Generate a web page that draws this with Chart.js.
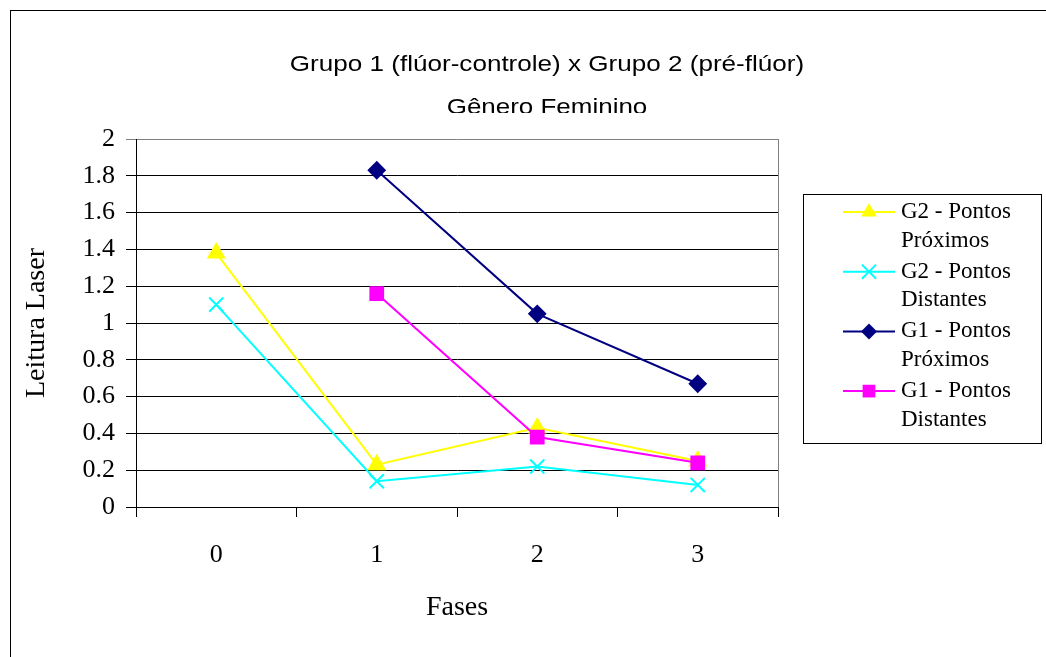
<!DOCTYPE html>
<html>
<head>
<meta charset="utf-8">
<script src="https://cdn.jsdelivr.net/npm/chart.js@4/dist/chart.umd.min.js"></script>
<style>
  html, body { margin: 0; padding: 0; background: #fff; }
  #wrap { width: 1046px; height: 657px; }
</style>
</head>
<body>
<div id="wrap"><canvas id="myChart" width="1046" height="657"></canvas></div>
<script>
// data
const fases = ["0", "1", "2", "3"];
const g2Proximos = [1.38, 0.23, 0.43, 0.25];
const g2Distantes = [1.1, 0.14, 0.22, 0.12];
const g1Proximos = [null, 1.83, 1.05, 0.67];
const g1Distantes = [null, 1.16, 0.38, 0.24];

const titulo = "Grupo 1 (flúor-controle) x Grupo 2 (pré-flúor)";
const subtitulo = "Gênero Feminino";

const serif = "'Liberation Serif', 'Times New Roman', serif";
const sans = "'Liberation Sans', Arial, sans-serif";

var ctx = document.getElementById("myChart").getContext("2d");

function drawMarker(c, style, x, y, r, color) {
  c.save();
  c.fillStyle = color;
  c.strokeStyle = color;
  c.lineWidth = 2;
  c.beginPath();
  if (style === "triangle") {
    c.moveTo(x, y - r);
    c.lineTo(x + r * 0.866, y + r * 0.5);
    c.lineTo(x - r * 0.866, y + r * 0.5);
    c.closePath();
    c.fill();
  } else if (style === "crossRot") {
    let d = r * 0.707;
    c.moveTo(x - d, y - d);
    c.lineTo(x + d, y + d);
    c.moveTo(x + d, y - d);
    c.lineTo(x - d, y + d);
    c.stroke();
  } else if (style === "rectRot") {
    c.moveTo(x, y - r);
    c.lineTo(x + r, y);
    c.lineTo(x, y + r);
    c.lineTo(x - r, y);
    c.closePath();
    c.fill();
  } else {
    let d = r * 0.707;
    c.rect(x - d, y - d, 2 * d, 2 * d);
    c.fill();
  }
  c.restore();
}

// the title in the original is a bit wider than the font, so stretch it
function stretchedText(c, text, x, y, sx) {
  c.save();
  c.translate(x, y);
  c.scale(sx, 1);
  c.fillText(text, 0, 0);
  c.restore();
}

const frame = {
  id: "frame",
  beforeDraw(chart) {
    const c = chart.ctx;
    c.save();
    c.fillStyle = "#fff";
    c.fillRect(0, 0, chart.width, chart.height);
    c.strokeStyle = "#000";
    c.lineWidth = 1;
    c.strokeRect(10.5, 10.5, 1200, 1200);

    // titles, second line is cut off at the bottom like in the original
    c.fillStyle = "#000";
    c.textAlign = "center";
    c.textBaseline = "alphabetic";
    c.font = "22px " + sans;
    stretchedText(c, titulo, 547, 71, 1.185);
    c.beginPath();
    c.rect(0, 0, chart.width, 113);
    c.clip();
    stretchedText(c, subtitulo, 547, 114, 1.18);
    c.restore();
  },
  afterDraw(chart) {
    const c = chart.ctx;
    const a = chart.chartArea;
    c.save();
    c.strokeStyle = "#808080";
    c.lineWidth = 1;
    c.beginPath();
    c.moveTo(Math.round(a.right) + 0.5, a.top);
    c.lineTo(Math.round(a.right) + 0.5, a.bottom);
    c.stroke();

    // legend box with wrapped labels
    c.strokeStyle = "#000";
    c.strokeRect(803.5, 194.5, 238, 249);
    c.font = "23px " + serif;
    c.textBaseline = "middle";
    c.textAlign = "left";
    chart.data.datasets.forEach((ds, i) => {
      let y = 212 + i * 59.7;
      c.strokeStyle = ds.borderColor;
      c.lineWidth = 2;
      c.beginPath();
      c.moveTo(843, y);
      c.lineTo(895, y);
      c.stroke();
      drawMarker(c, ds.pointStyle, 869, y, ds.pointRadius, ds.borderColor);
      let parts = ds.label.split("|");
      c.fillStyle = "#000";
      c.fillText(parts[0], 901, y);
      c.fillText(parts[1], 901, y + 28.5);
    });
    c.restore();
  },
};

var myChart = new Chart(ctx, {
  type: "line",
  data: {
    labels: fases,
    datasets: [
      {
        label: "G2 - Pontos|Próximos",
        data: g2Proximos,
        borderColor: "#FFFF00",
        backgroundColor: "#FFFF00",
        pointStyle: "triangle",
        pointRadius: 9,
        borderWidth: 2,
        order: 3,
      },
      {
        label: "G2 - Pontos|Distantes",
        data: g2Distantes,
        borderColor: "#00FFFF",
        backgroundColor: "#00FFFF",
        pointStyle: "crossRot",
        pointRadius: 10,
        pointBorderWidth: 2,
        borderWidth: 2,
        order: 2,
      },
      {
        label: "G1 - Pontos|Próximos",
        data: g1Proximos,
        borderColor: "#000080",
        backgroundColor: "#000080",
        pointStyle: "rectRot",
        pointRadius: 8,
        borderWidth: 2,
        order: 1,
      },
      {
        label: "G1 - Pontos|Distantes",
        data: g1Distantes,
        borderColor: "#FF00FF",
        backgroundColor: "#FF00FF",
        pointStyle: "rect",
        pointRadius: 9,
        borderWidth: 2,
        order: 0,
      },
    ],
  },
  options: {
    responsive: false,
    animation: false,
    layout: {
      padding: { top: 139, right: 268, bottom: 10, left: 12 },
    },
    plugins: {
      legend: { display: false },
      title: { display: false },
      tooltip: { enabled: false },
    },
    scales: {
      x: {
        offset: true,
        afterFit: (s) => { s.height = 140; },
        grid: {
          offset: true,
          drawOnChartArea: false,
          drawTicks: true,
          tickLength: 10,
          color: "#000",
        },
        border: { color: "#000" },
        ticks: {
          color: "#000",
          padding: 23,
          font: { family: serif, size: 26 },
        },
        title: {
          display: true,
          text: "Fases",
          color: "#000",
          font: { family: serif, size: 28 },
          padding: { top: 0, bottom: 23 },
        },
      },
      y: {
        min: 0,
        max: 2,
        afterFit: (s) => { s.width = 124; },
        grid: {
          color: (c) => (c.tick && c.tick.value === 2 ? "#808080" : "#000"),
          tickLength: 10,
        },
        border: { color: "#000" },
        ticks: {
          stepSize: 0.2,
          color: "#000",
          padding: 11,
          font: { family: serif, size: 26 },
          callback: (v) => String(Number(v.toFixed(1))),
        },
        title: {
          display: true,
          text: "Leitura Laser",
          color: "#000",
          font: { family: serif, size: 28 },
          padding: { top: 8, bottom: 0 },
        },
      },
    },
  },
  plugins: [frame],
});
</script>
</body>
</html>
